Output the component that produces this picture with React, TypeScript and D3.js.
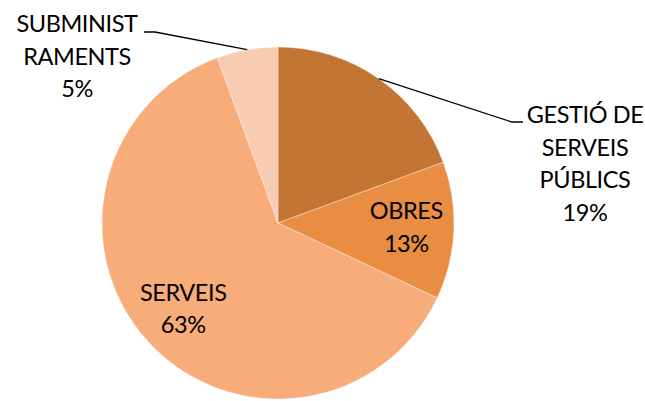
import React from "react";
import * as d3 from "d3";

const categories = ["GESTIÓ DE SERVEIS PÚBLICS", "OBRES", "SERVEIS", "SUBMINISTRAMENTS"];
const values = [19.4, 12.6, 62.4, 5.6];
const pctLabels = ["19%", "13%", "63%", "5%"];
const labelLines = [["GESTIÓ DE", "SERVEIS", "PÚBLICS"], ["OBRES"], ["SERVEIS"], ["SUBMINIST", "RAMENTS"]];
const colors = ["#C37634", "#E98D42", "#F7AC79", "#F9CBB1"];

const W = 645, H = 401;
const cx = 278, cy = 223, R = 176;
const FONT = "Lato, 'Open Sans', sans-serif";
const FS = 23.5;
const LH = 32.5;

export default function App() {
  const pie = d3.pie<number>().sort(null).value((d) => d)(values);
  const arc = d3.arc<d3.PieArcDatum<number>>().innerRadius(0).outerRadius(R);
  const pt = (a: number, r: number) => [cx + r * Math.sin(a), cy - r * Math.cos(a)];

  const outside: Record<number, { x: number; y: number; elbow: [number, number]; end: [number, number] }> = {
    0: { x: 585, y: 123, elbow: [512, 122], end: [523, 122] },
    3: { x: 77, y: 32, elbow: [155, 32], end: [144, 32] },
  };

  return (
    <svg width={W} height={H} style={{ position: "absolute", left: 0, top: 0 }}>
      <rect width={W} height={H} fill="#fff" />
      <g transform={`translate(${cx},${cy})`}>
        {pie.map((p, i) => (
          <path key={i} d={arc(p) || ""} fill={colors[i]} stroke="#fff" strokeOpacity={0.6} strokeWidth={0.6} />
        ))}
      </g>
      {pie.map((p, i) => {
        const mid = (p.startAngle + p.endAngle) / 2;
        const lines = [...labelLines[i], pctLabels[i]];
        if (outside[i]) {
          const o = outside[i];
          const [sx, sy] = pt(mid, R);
          return (
            <g key={i}>
              <polyline
                points={`${sx},${sy} ${o.elbow[0]},${o.elbow[1]} ${o.end[0]},${o.end[1]}`}
                fill="none"
                stroke="#000"
                strokeWidth={1.3}
              />
              <text fontFamily={FONT} fontSize={FS} letterSpacing={-0.4} fill="#000" textAnchor="middle">
                {lines.map((l, k) => (
                  <tspan key={k} x={o.x} y={o.y + k * LH}>{l}</tspan>
                ))}
              </text>
            </g>
          );
        }
        const [lx, ly] = pt(mid, R * 0.73);
        const blockH = (lines.length - 1) * LH;
        const firstBase = ly - blockH / 2 + 7;
        return (
          <text key={i} fontFamily={FONT} fontSize={FS} letterSpacing={-0.4} fill="#000" textAnchor="middle">
            {lines.map((l, k) => (
              <tspan key={k} x={lx} y={firstBase + k * LH}>{l}</tspan>
            ))}
          </text>
        );
      })}
    </svg>
  );
}
